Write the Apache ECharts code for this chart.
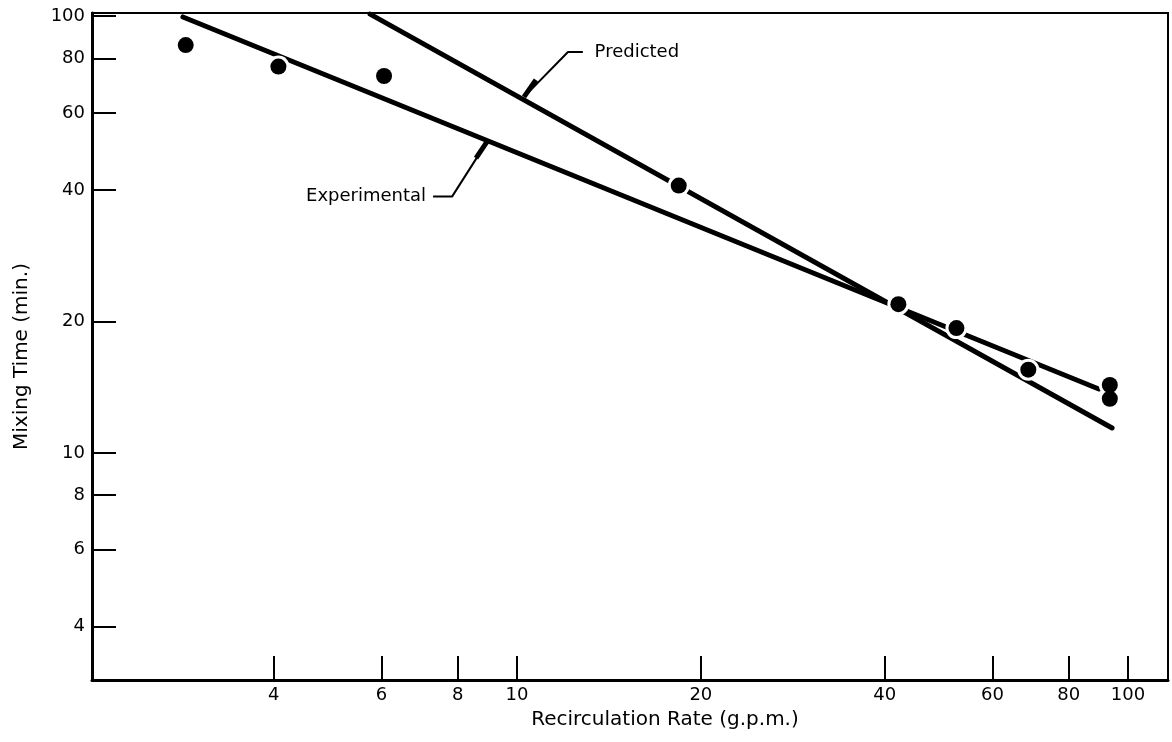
<!DOCTYPE html>
<html>
<head>
<meta charset="utf-8">
<script src="https://cdn.jsdelivr.net/npm/echarts@6/dist/echarts.min.js"></script>
<style>
html,body{margin:0;padding:0;background:#ffffff;}
#chart{width:1172px;height:742px;}
</style>
</head>
<body>
<div id="chart"></div>
<script>
// ---- data ----
const tickValues = [4, 6, 8, 10, 20, 40, 60, 80, 100];
const rate = [2.87, 4.07, 6.06, 18.4, 42.1, 52.4, 68.7, 93.4, 93.4];          // g.p.m.
const mixingTime = [85.8, 76.6, 72.9, 40.9, 21.9, 19.3, 15.5, 14.3, 13.3];   // min.
const experimentalX = [2.84, 89.6];
const experimentalY = [99.5, 14.0];
const predictedX = [5.75, 94.2];
const predictedY = [101, 11.4];
// annotation leaders (data units)
const predictedLeaderX = [12.82, 12.12, 10.27];
const predictedLeaderY = [82.7, 82.7, 65.3];
const predictedArrowX = [10.74, 10.27];
const predictedArrowY = [71.4, 65.3];
const experimentalLeaderX = [7.29, 7.83, 8.93];
const experimentalLeaderY = [38.6, 38.6, 51.5];
const experimentalArrowX = [8.57, 8.93];
const experimentalArrowY = [47.3, 51.5];
const labelPredicted = {text: 'Predicted', x: 13.4, y: 82.7};
const labelExperimental = {text: 'Experimental', x: 7.1, y: 38.6};

const zip = (xs, ys) => xs.map((x, i) => [x, ys[i]]);
const FONT = 'DejaVu Sans';

const chart = echarts.init(document.getElementById('chart'), null, {renderer: 'canvas'});
chart.setOption({
  animation: false,
  backgroundColor: '#ffffff',
  textStyle: {fontFamily: FONT, color: '#000'},
  grid: {left: 92, right: 4, top: 13, bottom: 62, show: true, borderColor: '#000', borderWidth: 2, containLabel: false},
  xAxis: {
    type: 'log', logBase: 10, min: 2.016, max: 116.3,
    name: 'Recirculation Rate (g.p.m.)', nameLocation: 'middle', nameGap: 30,
    nameTextStyle: {fontFamily: FONT, fontSize: 20, color: '#000', padding: [0, 0, 0, 70]},
    axisLine: {show: true, lineStyle: {color: '#000', width: 3}},
    axisTick: {show: true, inside: true, length: 24, lineStyle: {color: '#000', width: 2}, customValues: tickValues},
    axisLabel: {show: true, margin: 6, fontFamily: FONT, fontSize: 18, color: '#000', customValues: tickValues, formatter: v => String(Math.round(v))},
    splitLine: {show: false}, minorTick: {show: false}, minorSplitLine: {show: false}
  },
  yAxis: {
    type: 'log', logBase: 10, min: 3.02, max: 101.6,
    name: 'Mixing Time (min.)', nameLocation: 'middle', nameGap: 60, nameRotate: 90,
    nameTextStyle: {fontFamily: FONT, fontSize: 20, color: '#000', padding: [0, 20, 0, 0]},
    axisLine: {show: true, lineStyle: {color: '#000', width: 3}},
    axisTick: {show: true, inside: true, length: 24, lineStyle: {color: '#000', width: 2}, customValues: tickValues},
    axisLabel: {show: true, margin: 7, fontFamily: FONT, fontSize: 18, color: '#000', customValues: tickValues, formatter: v => String(Math.round(v))},
    splitLine: {show: false}, minorTick: {show: false}, minorSplitLine: {show: false}
  },
  series: [
    {type: 'line', name: 'Experimental', data: zip(experimentalX, experimentalY), symbol: 'none', z: 2,
     lineStyle: {color: '#000', width: 5, cap: 'round'}},
    {type: 'line', name: 'Predicted', data: zip(predictedX, predictedY), symbol: 'none', z: 2,
     lineStyle: {color: '#000', width: 5, cap: 'round'}},
    {type: 'line', data: zip(predictedLeaderX, predictedLeaderY), symbol: 'none', z: 2,
     lineStyle: {color: '#000', width: 2}},
    {type: 'line', data: zip(predictedArrowX, predictedArrowY), symbol: 'none', z: 2,
     lineStyle: {color: '#000', width: 5}},
    {type: 'line', data: zip(experimentalLeaderX, experimentalLeaderY), symbol: 'none', z: 2,
     lineStyle: {color: '#000', width: 2}},
    {type: 'line', data: zip(experimentalArrowX, experimentalArrowY), symbol: 'none', z: 2,
     lineStyle: {color: '#000', width: 5}},
    // white halo that breaks the lines around each data point
    {type: 'scatter', data: zip(rate, mixingTime), symbol: 'circle', symbolSize: 22, z: 3,
     itemStyle: {color: '#fff', opacity: 1}, silent: true},
    {type: 'scatter', name: 'Measured', data: zip(rate, mixingTime), symbol: 'circle', symbolSize: 16, z: 4,
     itemStyle: {color: '#000', opacity: 1}},
    {type: 'scatter', data: [
        {value: [labelPredicted.x, labelPredicted.y], name: labelPredicted.text, label: {position: 'right'}},
        {value: [labelExperimental.x, labelExperimental.y], name: labelExperimental.text, label: {position: 'left'}}
      ], symbolSize: 0, z: 5, itemStyle: {opacity: 1},
     label: {show: true, formatter: p => p.name, distance: 0, fontFamily: FONT, fontSize: 18, color: '#000'}}
  ]
});
</script>
</body>
</html>
